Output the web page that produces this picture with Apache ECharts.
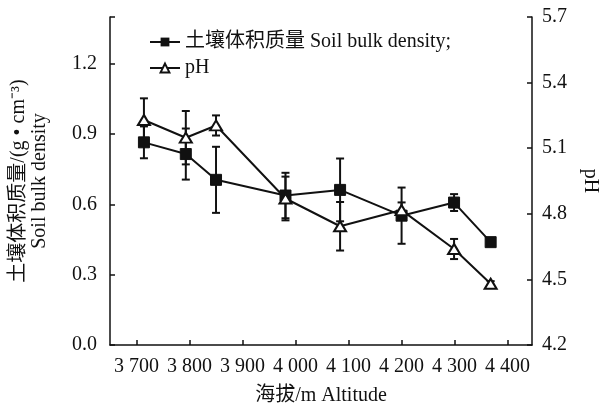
<!DOCTYPE html>
<html><head><meta charset="utf-8">
<script src="https://cdn.jsdelivr.net/npm/echarts@6/dist/echarts.min.js"></script>
<style>html,body{margin:0;padding:0;background:#fff}#c{width:608px;height:411px}</style>
</head><body><div id="c"></div>
<script>
const altitude = [3714, 3793, 3850, 3981, 4084, 4200, 4299, 4368];
const density = [0.865, 0.815, 0.705, 0.638, 0.662, 0.552, 0.608, 0.439];
const densityErr = [0.068, 0.109, 0.141, 0.097, 0.134, 0.12, 0.036, 0.012];
const ph = [5.229, 5.148, 5.204, 4.87, 4.743, 4.817, 4.639, 4.48];
const phErr = [0.099, 0.122, 0.046, 0.1, 0.111, 0.035, 0.046, 0.012];
const legendNames = ['土壤体积质量 Soil bulk density;', 'pH'];

const serif = '"Liberation Serif","Noto Sans CJK SC",serif';
const ink = '#111';

function errRender(params, api) {
  const x = api.value(0), y = api.value(1), e = api.value(2);
  const t = api.coord([x, y + e]), b = api.coord([x, y - e]);
  const hw = 4, st = {stroke: ink, lineWidth: 2};
  return {type: 'group', children: [
    {type: 'line', shape: {x1: t[0], y1: t[1], x2: b[0], y2: b[1]}, style: st},
    {type: 'line', shape: {x1: t[0] - hw, y1: t[1], x2: t[0] + hw, y2: t[1]}, style: st},
    {type: 'line', shape: {x1: b[0] - hw, y1: b[1], x2: b[0] + hw, y2: b[1]}, style: st}
  ]};
}

const fmtAlt = v => (v % 100 !== 0) ? '' : Math.floor(v / 1000) + ' ' + String(v % 1000).padStart(3, '0');

const chart = echarts.init(document.getElementById('c'));
chart.setOption({
  animation: false,
  backgroundColor: '#fff',
  textStyle: {fontFamily: serif, color: ink},
  grid: {left: 110, right: 73, top: 17, bottom: 65},
  legend: {
    data: legendNames, orient: 'vertical', left: 144, top: 27, itemGap: 6,
    itemWidth: 30, itemHeight: 11,
    textStyle: {fontFamily: serif, fontSize: 20, color: ink}
  },
  xAxis: {
    type: 'value', min: 3650, max: 4446, splitNumber: 8,
    name: '海拔/m Altitude', nameLocation: 'middle', nameGap: 41,
    nameTextStyle: {fontFamily: serif, fontSize: 20, color: ink},
    axisLine: {lineStyle: {color: ink, width: 1.5}},
    axisTick: {inside: true, length: 5, lineStyle: {color: ink, width: 1.5}},
    axisLabel: {formatter: fmtAlt, fontSize: 20, color: ink, margin: 12, fontFamily: serif, showMinLabel: false, showMaxLabel: false},
    splitLine: {show: false}
  },
  yAxis: [{
    type: 'value', min: 0, max: 1.4, interval: 0.3, position: 'left',
    name: '土壤体积质量/(g • cm⁻³)\nSoil bulk density', nameLocation: 'middle', nameGap: 60,
    nameTextStyle: {fontFamily: serif, fontSize: 20, color: ink, lineHeight: 21},
    axisLine: {show: true, lineStyle: {color: ink, width: 1.5}},
    axisTick: {inside: true, length: 5, lineStyle: {color: ink, width: 1.5}},
    axisLabel: {formatter: v => v > 1.3 ? '' : v.toFixed(1), fontSize: 20, color: ink, margin: 13, fontFamily: serif},
    splitLine: {show: false}
  }, {
    type: 'value', min: 4.2, max: 5.7, interval: 0.3, position: 'right',
    name: 'pH', nameLocation: 'middle', nameGap: 48, nameRotate: -90,
    nameTextStyle: {fontFamily: serif, fontSize: 20, color: ink},
    axisLine: {show: true, lineStyle: {color: ink, width: 1.5}},
    axisTick: {inside: true, length: 5, lineStyle: {color: ink, width: 1.5}},
    axisLabel: {formatter: v => v.toFixed(1), fontSize: 20, color: ink, margin: 10, fontFamily: serif},
    splitLine: {show: false}
  }],
  series: [{
    name: legendNames[0], type: 'line', yAxisIndex: 0, z: 3,
    data: altitude.map((a, i) => [a, density[i]]),
    symbol: 'rect', symbolSize: 11,
    lineStyle: {color: ink, width: 2}, itemStyle: {color: ink, borderColor: ink}
  }, {
    name: legendNames[1], type: 'line', yAxisIndex: 1, z: 3,
    data: altitude.map((a, i) => [a, ph[i]]),
    symbol: 'triangle', symbolSize: [12, 10],
    lineStyle: {color: ink, width: 2}, itemStyle: {color: '#fff', borderColor: ink, borderWidth: 2}
  }, {
    type: 'custom', yAxisIndex: 0, z: 2, renderItem: errRender,
    data: altitude.map((a, i) => [a, density[i], densityErr[i]])
  }, {
    type: 'custom', yAxisIndex: 1, z: 2, renderItem: errRender,
    data: altitude.map((a, i) => [a, ph[i], phErr[i]])
  }]
});
</script></body></html>
